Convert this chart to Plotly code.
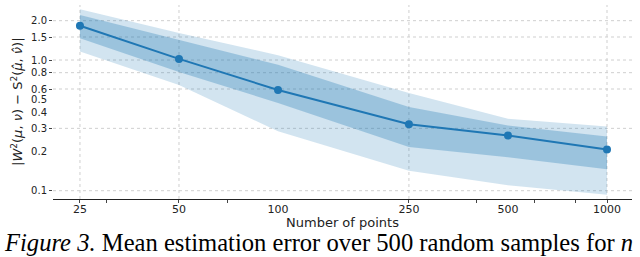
import plotly.graph_objects as go

# ---- data ----
n_points = [25, 50, 100, 250, 500, 1000]
mean_err = [1.83, 1.02, 0.59, 0.322, 0.264, 0.207]
inner_hi = [2.21, 1.42, 0.92, 0.437, 0.315, 0.26]
inner_lo = [1.47, 0.81, 0.469, 0.216, 0.18, 0.146]
outer_hi = [2.45, 1.61, 1.09, 0.56, 0.355, 0.31]
outer_lo = [1.16, 0.644, 0.285, 0.142, 0.11, 0.093]

x_ticks = [25, 50, 100, 250, 500, 1000]
x_grid = [25, 50, 250, 1000]
x_minor = [25, 30, 50, 70, 250, 400, 600, 800, 1000]
y_ticks = [0.1, 0.2, 0.3, 0.4, 0.5, 0.6, 0.8, 1.0, 1.5, 2.0]
y_tick_text = ["0.1", "0.2", "0.3", "0.4", "0.5", "0.6", "0.8", "1.0", "1.5", "2.0"]
y_grid = [0.1, 0.3, 0.6, 0.8, 1.0, 1.5, 2.0]

caption = "<i>Figure 3.</i> Mean estimation error over 500 random samples for <i>n</i>"

C0 = "#1f77b4"
L, R, T, B = 53, 8, 5, 58
W, H = 640, 257
PW, PH = W - L - R, H - T - B

fig = go.Figure()

fig.add_trace(go.Scatter(
    x=n_points + n_points[::-1], y=outer_hi + outer_lo[::-1],
    fill="toself", fillcolor="rgba(31,119,180,0.2)", line=dict(width=0),
    mode="lines", hoverinfo="skip", showlegend=False))
fig.add_trace(go.Scatter(
    x=n_points + n_points[::-1], y=inner_hi + inner_lo[::-1],
    fill="toself", fillcolor="rgba(31,119,180,0.3)", line=dict(width=0),
    mode="lines", hoverinfo="skip", showlegend=False))
fig.add_trace(go.Scatter(
    x=n_points, y=mean_err, mode="lines+markers",
    line=dict(color=C0, width=2), marker=dict(color=C0, size=8),
    showlegend=False))

shapes = []
for g in y_grid:
    shapes.append(dict(type="line", xref="paper", yref="y", x0=0, x1=1, y0=g, y1=g,
                       line=dict(color="#cfcfcf", width=1, dash="dot"), layer="below"))
for g in x_grid:
    shapes.append(dict(type="line", xref="x", yref="paper", x0=g, x1=g, y0=0, y1=1,
                       line=dict(color="#cfcfcf", width=1, dash="dot"), layer="below"))


def px_x(p):
    return (p - L) / PW


def px_y(p):
    return (H - B - p) / PH


annotations = [
    dict(text="|<i>W</i><sup>2</sup>(<i>μ</i>, <i>ν</i>) − S<sup>2</sup>(<i>μ\u0302</i>, <i>ν\u0302</i>)|",
         xref="paper", yref="paper", x=px_x(17), y=0.5, textangle=-90,
         xanchor="center", yanchor="middle", showarrow=False,
         font=dict(family="DejaVu Sans", size=13, color="#222222")),
    dict(text="Number of points", xref="paper", yref="paper", x=0.5, y=px_y(222),
         xanchor="center", yanchor="middle", showarrow=False,
         font=dict(family="DejaVu Sans", size=13, color="#222222")),
    dict(text=caption, xref="paper", yref="paper", x=px_x(2), y=px_y(242.5),
         xanchor="left", yanchor="middle", showarrow=False,
         font=dict(family="Liberation Serif", size=24.6, color="black")),
]

fig.update_layout(
    width=W, height=H,
    margin=dict(l=L, r=R, t=T, b=B),
    paper_bgcolor="white", plot_bgcolor="white",
    shapes=shapes,
    xaxis=dict(type="log", range=[1.316, 3.076],
               tickmode="array", tickvals=x_ticks, ticktext=[str(v) for v in x_ticks],
               ticks="", showgrid=False, zeroline=False,
               showline=True, linecolor="#222222", linewidth=1.3,
               tickfont=dict(family="DejaVu Sans", size=11, color="#222222"),
               ticklabelstandoff=0,
               minor=dict(tickmode="array", tickvals=x_minor, ticks="outside",
                          ticklen=3, tickcolor="#444444", showgrid=False)),
    yaxis=dict(type="log", range=[-1.0635, 0.421],
               tickmode="array", tickvals=y_ticks, ticktext=y_tick_text,
               ticks="", showgrid=False, zeroline=False, showline=False,
               tickfont=dict(family="DejaVu Sans", size=10, color="#222222"),
               ticklabelstandoff=5,
               minor=dict(tickmode="array", tickvals=y_grid, ticks="outside",
                          ticklen=3, tickcolor="#444444", showgrid=False)),
    annotations=annotations,
)

fig.write_html("out.html", config={"displayModeBar": False},
               post_script="document.body.style.margin='0';")
